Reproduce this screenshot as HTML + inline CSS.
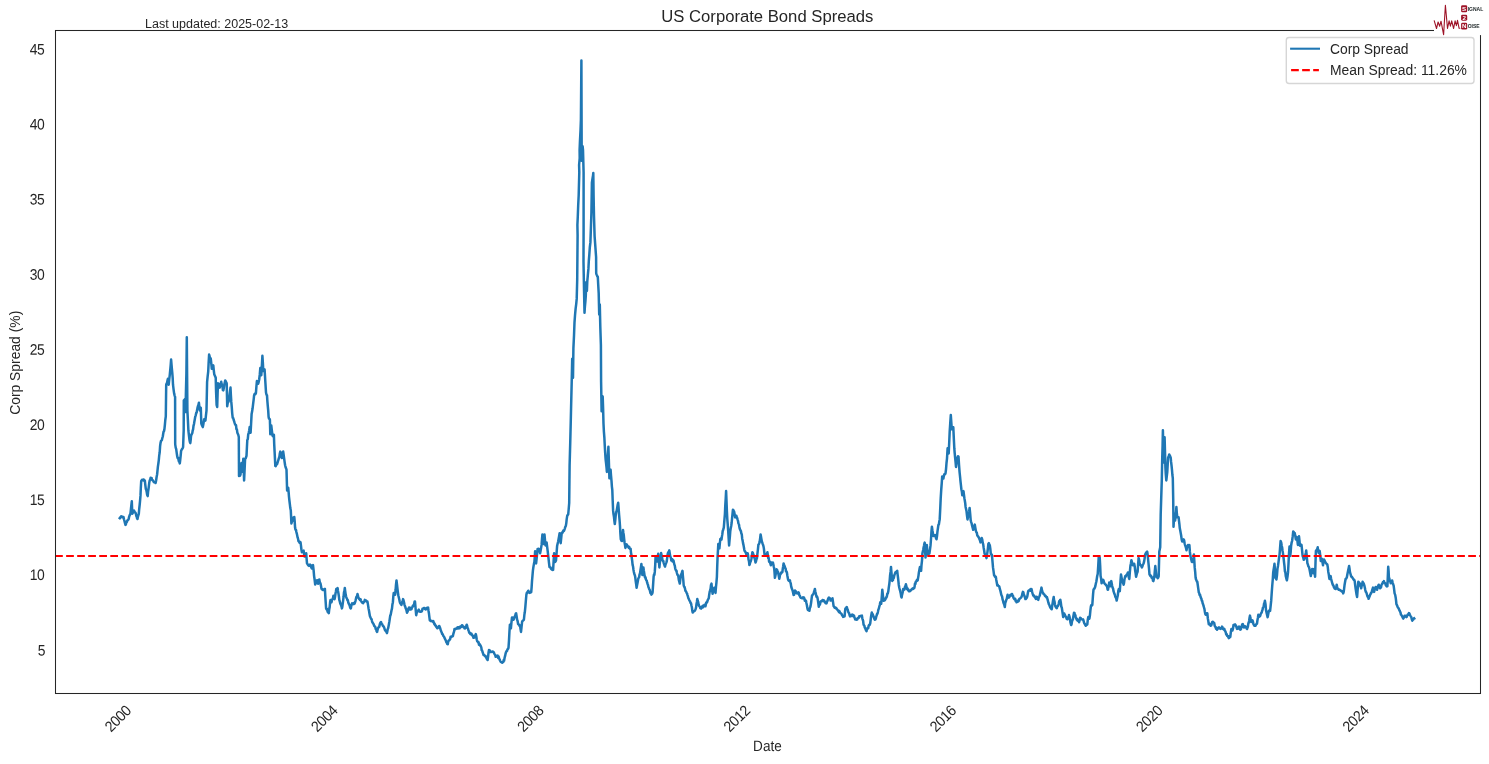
<!DOCTYPE html>
<html lang="en"><head><meta charset="utf-8"><title>US Corporate Bond Spreads</title>
<style>html,body{margin:0;padding:0;background:#fff;}body{width:1489px;height:764px;overflow:hidden;}svg{display:block;will-change:transform;}text{font-family:"Liberation Sans", Arial, sans-serif;fill:#262626;}</style></head><body>
<svg width="1489" height="764" viewBox="0 0 1489 764">
<rect x="0" y="0" width="1489" height="764" fill="#ffffff"/>
<polyline fill="none" stroke="#1f77b4" stroke-width="2.5" stroke-linejoin="round" stroke-linecap="butt" points="118.9,519 119.3,518.4 119.8,518.4 120.2,517.6 120.6,517.1 121.1,516.3 121.5,516.4 122,516.4 122.5,517.3 123,517.1 123.5,517 124,519.5 124.5,521.1 125,523.1 125.5,524.9 126,523.9 126.5,521.7 126.9,521.9 127.4,520.3 127.8,520.1 128.3,519.7 128.7,519 129.1,516.8 129.6,515.4 130,514.6 130.4,513.8 130.9,509.4 131.3,505.6 131.8,501.3 132.3,513.8 132.7,512.9 133.2,512.4 133.6,511 134,510.5 134.5,511.5 134.9,512.4 135.4,512.6 135.9,513.8 136.3,516 136.7,516.7 137.1,518.4 137.5,519 137.9,516.9 138.4,515.1 138.8,513.8 139.2,509 139.7,504.5 140.1,500.3 140.5,495.4 140.8,488.3 141.2,481 141.7,480.4 142.1,479.8 142.6,479.7 143.1,479.7 143.5,480.5 143.9,479.6 144.4,480.4 144.8,480.4 145.3,484.9 145.8,488.9 146.3,489.9 146.8,492.5 147.2,495 147.7,496.1 148.1,491.6 148.5,489.1 148.9,485.8 149.3,482.4 149.7,480.4 150.2,479.6 150.6,477.8 151.1,478.3 151.6,478 152,479.8 152.5,480.2 153,480.4 153.4,481.4 153.9,482.1 154.3,481.9 154.7,482.2 155.2,481.9 155.6,483 156.1,480.5 156.6,477 157.1,474.5 157.5,470.7 157.9,466.6 158.4,463.2 158.8,460.1 159.2,455.6 159.7,452.3 160.1,446.2 160.5,443.1 161,441 161.4,440.6 161.9,439.9 162.3,438.1 162.8,436.5 163.2,433.7 163.6,431.5 164,431.3 164.4,429.3 164.9,424.6 165.3,420 165.8,416.3 166.2,384.7 166.6,383.8 167.1,382.4 167.5,380.4 167.9,378.9 168.3,381.9 168.7,384.7 169.2,379.9 169.8,374.6 170.2,370.4 170.7,364.9 171.1,359.5 171.5,364.4 171.9,368.9 172.3,373.2 172.7,378.1 173,384.7 173.6,389.7 174.1,393.3 174.6,395.6 175.1,396.9 175.2,444.4 175.7,447.6 176.2,449.2 176.7,452.9 177.2,456.2 177.6,457.9 178.1,457.6 178.5,459.7 178.9,461.6 179.4,461.5 179.8,463.4 180.2,460.1 180.7,455.4 181.1,450.9 181.6,449.8 182.1,449.1 182.6,448.3 183.1,447 183.7,430 183.8,400.5 184.4,399.9 184.9,399.1 185.5,412 185.9,393.1 186.4,373 186.8,337.2 187.4,410.6 187.9,420.3 188.4,430.7 188.9,435.1 189.5,440 189.9,442.1 190.3,443.1 190.7,439.8 191,436.5 191.4,434.6 191.8,434.1 192.3,433 192.7,430.5 193.1,429.3 193.5,425.9 194,424 194.4,421.4 194.9,418.7 195.3,416.3 195.7,415.6 196.2,412.9 196.6,412.7 197,410.6 197.5,407.9 197.9,406.2 198.4,405 198.9,402.7 199.4,407.3 199.9,410.6 200.4,409.6 200.8,407.7 201.3,423.5 201.8,424.9 202.3,426 202.8,427.1 203.3,424.6 203.7,422.1 204.2,419.2 204.6,419.6 205,420.3 205.4,420.6 205.9,415.9 206.5,410.6 207.1,381.8 207.6,376.8 208.2,371.7 208.6,363.5 209.1,354.5 209.5,355.9 209.9,357.8 210.4,357.9 210.8,358.8 211.3,363.6 211.8,368.8 212.3,367.4 212.8,366.5 213.3,365.3 213.8,370.5 214.3,374.6 214.8,375.4 215.2,376.7 215.7,377.5 216.1,392.2 216.6,404.8 217.2,407 217.6,393.7 218,383.2 218.4,383.7 218.8,385.5 219.3,386.7 219.7,387.6 220.2,385.8 220.7,383.5 221.2,381.8 221.6,383.9 222,385.4 222.5,386.7 222.9,390 223.3,390.4 223.8,388.1 224.2,385.1 224.7,382.8 225.2,380.4 225.7,381.2 226.2,382.2 226.7,383.2 227.2,406.3 227.7,403 228.1,402.4 228.6,401.5 229.1,399.1 229.6,394.6 230,391.4 230.5,387.6 230.9,395.3 231.3,401.9 231.8,407.7 232.2,413.3 232.7,417.8 233.2,418.1 233.7,420 234.1,421.2 234.6,422.9 235.1,424.4 235.6,425 236,425.2 236.4,429 236.9,429.4 237.3,432.3 237.7,433.6 238.2,434.5 238.8,437 239,476 239.5,475.6 240,475.7 240.5,474.6 241,468.8 241.5,463.1 242,467.5 242.5,471.7 242.9,465.7 243.3,458.8 243.7,469.7 244.1,480.4 244.6,469.6 245.1,458.8 245.6,458.7 246,457.4 246.5,455.9 246.9,447.8 247.3,440 247.8,439.1 248.2,434.6 248.7,432.8 249.2,430.4 249.7,427 250.1,429.8 250.6,432.8 251.1,423.5 251.6,414.1 252.1,411.6 252.6,408.3 253.1,404.1 253.6,400.1 254.1,395.4 254.6,394 255,393.5 255.4,394.1 255.9,393.2 256.4,386.6 256.9,381 257.3,381.4 257.7,382.1 258.1,383.8 258.6,382.3 259.2,379.5 259.8,374.2 260.3,368 260.8,372.4 261.3,375.2 261.9,365 262.4,355.8 262.9,363.4 263.3,370.9 263.7,369.8 264.2,370.4 264.6,369.5 265.1,378 265.5,384.3 266,392.5 266.5,394.8 267,395.4 267.4,401.3 267.8,406.1 268.2,410.4 268.6,416.9 269,418.6 269.5,418.8 269.9,419.8 270.3,434.2 270.8,429.6 271.3,425.6 271.7,429.2 272.1,432.5 272.5,435.6 273,436.2 273.4,434.6 273.9,434.9 274.2,443.9 274.6,451.6 275,459.6 275.3,466 275.7,466.2 276.1,464.7 276.6,463.9 277,464.2 277.4,463.1 277.9,461.5 278.4,459.8 278.9,458.1 279.4,456.7 279.8,453.6 280.3,451.6 280.8,452.5 281.3,455.7 281.8,458.1 282.3,454.9 282.7,454.2 283.2,451.6 283.7,455.2 284.1,458.1 284.6,461.9 285.1,465.3 285.6,467.2 286,468.2 286.5,469.6 287.1,490.4 287.6,489.7 288.2,487.6 288.6,491.9 289,496.8 289.4,500.5 289.9,504.7 290.3,508.1 290.8,510.6 291.4,523.5 291.9,521.7 292.3,521.1 292.8,519.2 293.3,517.5 293.8,517.2 294.3,517.1 294.7,521.4 295.1,527.8 295.5,529.8 296,530 296.4,532.1 296.8,533.6 297.2,535.4 297.6,537.4 298.1,539 298.5,541.3 299,541.6 299.5,542.7 300,541.9 300.5,542.1 301,545.8 301.4,549.5 301.9,552.3 302.3,551.8 302.8,550.8 303.2,550.7 303.6,550.6 304.1,554.2 304.5,556.6 304.9,554.8 305.4,554.6 305.8,554.6 306.2,553.2 306.6,558.7 307,563.4 307.5,564 308,565.1 308.5,565.4 309,565.9 309.4,565.1 309.9,564.6 310.3,564.9 310.7,565.1 311.2,567.3 311.8,568.5 312.2,567.1 312.6,565.7 313,565.1 313.6,570.2 314.1,576.1 314.6,579.5 315.2,584.6 315.6,583.5 316,581.9 316.5,581.7 316.9,580.4 317.3,580.2 317.7,582.8 318.1,583.8 318.5,582 318.9,579.9 319.3,579.5 319.7,581.8 320.2,583.1 320.6,583.9 321.1,586.5 321.5,588.9 321.9,589.3 322.4,589 322.8,589.9 323.2,589.7 323.6,589.9 324,589.7 324.5,589.3 324.9,588.9 325.3,596.1 325.7,602.3 326.1,608.4 326.6,609.4 327,608.9 327.5,611.3 327.9,612.3 328.4,612.2 328.8,613.2 329.2,609.6 329.6,607.6 330.1,602.3 330.5,599.9 330.9,600.7 331.3,602.4 331.7,601.6 332.1,599.6 332.5,599 333,598.2 333.4,595.7 333.8,596.8 334.2,598.3 334.6,599.1 335,597 335.5,593.5 335.9,591.4 336.3,588.9 336.7,588.8 337.2,588.8 337.6,588 338,591 338.5,593.8 338.9,596.4 339.3,599.9 339.7,601.1 340.2,603.2 340.6,604.2 341,605.1 341.5,606.5 341.9,608.4 342.3,606.9 342.8,603.1 343.2,599.8 343.6,596.5 344,592.2 344.4,591.2 344.8,588 345.2,591.1 345.7,594.6 346.1,596.5 346.5,597.9 347,598.7 347.4,600.2 347.8,600 348.3,602.7 348.7,603.3 349.1,604.5 349.6,605 350,607.1 350.5,608.4 350.9,608.4 351.3,605.9 351.7,604.6 352.1,603.3 352.5,603.7 353,603.9 353.4,603.8 353.8,604.2 354.2,602.8 354.6,603.7 355.1,602.2 355.5,600.8 356,598.4 356.5,596.7 357,596.6 357.5,594 358,595.9 358.4,597.8 358.9,598.2 359.3,599.2 359.7,598.9 360.1,600 360.6,599.3 361,600.6 361.4,601.6 361.8,602 362.2,602.7 362.7,602.5 363.1,603.3 363.5,602.4 364,601.9 364.4,601 364.8,599.9 365.2,600.5 365.7,600.6 366.1,600.6 366.5,601.5 367,601.3 367.4,601.6 367.8,603.6 368.2,606.1 368.6,608.8 369.1,611.2 369.5,613.8 369.9,616.1 370.3,617 370.8,618.1 371.2,618.9 371.6,619.2 372,621.1 372.4,622.4 372.9,623 373.3,623.7 373.8,624.6 374.2,626 374.7,626.2 375.2,626.8 375.7,628.9 376.2,629.3 376.6,631.3 377.1,631.9 377.5,630.1 378,628.1 378.4,627.7 378.8,627.1 379.2,626.9 379.7,624.9 380.1,623.3 380.6,622.6 381,622 381.4,623 381.8,623.7 382.2,624.2 382.7,625.7 383.1,626 383.5,626.3 383.9,627.1 384.4,628.3 384.8,629.8 385.2,630.2 385.6,631.1 386,630.8 386.5,632.2 386.9,633.1 387.3,631.6 387.7,629.2 388.2,628 388.6,625.9 389,623.7 389.4,621.4 389.9,617.9 390.3,615.2 390.7,614.9 391.1,612.5 391.6,610 392,608.4 392.4,604.6 392.9,602.2 393.3,596.7 393.7,593.1 394.2,594.1 394.6,594.8 395.1,594.8 395.6,590 396,584.6 396.5,580.4 397,584.7 397.5,589.1 398,593.1 398.4,595.8 398.9,597.8 399.3,599.5 399.7,601.6 400.1,602.9 400.5,603.6 401,604.3 401.4,605 401.8,603.6 402.2,601.9 402.7,601 403.1,599.1 403.5,600.2 404,602.2 404.4,604.2 404.8,605.9 405.2,606.5 405.7,608.4 406.1,608.9 406.6,611 407,612.7 407.5,611.7 408,610.5 408.5,608.8 409,607.6 409.4,607.8 409.8,607.5 410.3,609.6 410.7,609.2 411.1,609.3 411.5,609.2 412,607.5 412.4,607.2 412.9,605.6 413.3,605.9 413.7,605.3 414.1,604.3 414.6,601.6 415,601.6 415.4,606.1 415.8,611 416.2,615.2 416.6,613.2 417.1,612.2 417.5,611.6 418,610.8 418.4,610.1 418.8,609.7 419.3,610.8 419.7,611.3 420.2,611.8 420.6,611.8 421.1,611.6 421.6,611.5 422.1,610.7 422.5,608.8 423,608.7 423.5,608.4 423.9,608 424.4,608.1 424.8,608.8 425.2,609 425.7,609.4 426.1,609.3 426.6,608 427.1,607.8 427.6,608 428.1,607.6 428.5,610.7 429,613.8 429.4,617.1 429.8,620.3 430.2,620.1 430.7,621.1 431.1,621.1 431.6,621.1 432,621 432.5,621.5 432.9,621.8 433.3,621 433.8,622.6 434.2,623.8 434.6,623.6 435,625.2 435.5,625.8 435.9,625.6 436.3,626.9 436.8,627.5 437.2,628.3 437.6,628.1 438.1,627.8 438.5,627 439,626.1 439.4,626.1 439.9,627.4 440.3,628.7 440.8,630.5 441.3,631.6 441.7,632.4 442.2,634.1 442.7,634.2 443.2,635.6 443.6,636.2 444.1,636.8 444.6,638.2 445.1,639.1 445.5,639.8 446,641.2 446.4,642.4 446.9,642.9 447.3,644.1 447.8,644.2 448.2,641.5 448.7,640.5 449.2,640.5 449.7,639.4 450.1,639.3 450.6,636.8 451.1,637.1 451.6,636.9 452,636.3 452.5,635.8 452.9,636.1 453.3,634.1 453.7,632.6 454.1,631.4 454.5,629 454.9,629.3 455.3,629.2 455.8,628.9 456.2,628.4 456.6,628.3 457,628.4 457.5,627.4 457.9,628.5 458.4,627.2 458.8,627.6 459.2,627.5 459.7,628.2 460.1,626.7 460.6,626.5 461.1,626.9 461.5,626 461.9,625.2 462.4,625.4 462.8,626.1 463.2,626.9 463.7,627.5 464.1,627.3 464.5,628.3 464.9,628.5 465.4,627.8 465.8,626.2 466.3,625.6 466.7,624.7 467.1,625.8 467.5,628.1 467.9,628.3 468.4,630.3 468.8,631 469.2,632.6 469.6,632.5 470,633.5 470.4,634.1 470.9,633.6 471.3,633.5 471.7,634.1 472.1,635.3 472.6,635.5 473,636.4 473.5,637.8 473.9,637.7 474.4,637.4 474.9,635.6 475.3,636.3 475.8,634.1 476.3,636.5 476.7,639.3 477.2,641.3 477.7,641.6 478.1,642.5 478.6,642.2 479,644.7 479.5,645.1 479.9,644.3 480.4,645.6 480.8,646.1 481.3,647.4 481.7,650.2 482.2,650.7 482.6,652.2 483.1,653.4 483.5,654.9 484,655.2 484.4,655.1 484.9,656 485.4,656.4 485.8,656.3 486.3,657.8 486.7,658.7 487.2,659.5 487.6,660 488.1,656.5 488.5,652.8 489,649.9 489.4,650.4 489.9,650.5 490.3,652 490.8,652 491.2,652 491.6,651.9 492,651.7 492.5,651.6 492.9,651.5 493.3,652 493.8,652.5 494.3,653.6 494.8,654.5 495.2,655.2 495.7,656.8 496.2,656.4 496.7,655.7 497.2,655.9 497.7,655.6 498.2,658.1 498.6,656.5 499.1,658.2 499.6,659.6 500,660.5 500.5,661.4 501,662.1 501.5,662.2 502,662.8 502.4,662.6 502.8,662 503.3,662 503.7,660.1 504.1,660.7 504.6,657.8 505.1,655.9 505.6,653.5 506.1,652 506.6,651 507.1,650.9 507.5,649.3 508,649 508.5,647.7 509,640.4 509.4,632.5 509.9,624.7 510.4,626.8 510.9,628.3 511.4,622.8 512,617.5 512.5,617.5 513,619 513.5,619.7 513.9,618.9 514.4,617.2 514.8,616.4 515.2,615.8 515.7,613.8 516.1,613.2 516.6,616.3 517.1,619.6 517.6,621 518.1,624 518.6,624.4 519,624.6 519.5,625.9 520,625.4 520.5,628.8 521,631.9 521.5,627.3 522.1,621.8 522.5,620.9 523,620.7 523.5,620.2 523.9,619.7 524.4,614.6 524.8,612.3 525.3,607.4 525.8,601.4 526.4,594.5 526.9,592.6 527.3,593 527.8,591.6 528.3,590.7 528.8,591.7 529.3,592.4 529.8,592.9 530.3,591.8 530.7,592.3 531.2,592.2 531.6,587.6 532,581.1 532.5,575.4 532.9,570.6 533.4,567 533.9,564.1 534.4,561.9 534.8,556.7 535.1,551.2 535.6,558.2 536.1,563.4 536.6,558.8 537.1,553.9 537.6,549 538.1,550.2 538.5,548.7 539,549 539.5,550.8 540.1,553.3 540.6,550.7 541.1,547.9 541.6,544.7 542,539.1 542.4,534.6 543,538.7 543.5,544 544,539.5 544.5,534.6 545,540.1 545.5,545.4 546,543.2 546.6,542.5 547.1,546.5 547.6,550.3 548.1,554.7 548.6,559.1 549,562.8 549.5,567 550,567.3 550.5,567.5 550.9,568.6 551.4,568.4 551.8,569.5 552.2,568.9 552.7,570 553.1,569.9 553.6,561.2 554.1,553.3 554.5,557.6 555,561.9 555.5,561.6 556,560.5 556.5,554.1 557.1,546.1 557.6,543.7 558.1,541.8 558.6,538.9 559.1,536.2 559.6,533.2 560.2,537.4 560.7,543.2 561.2,538.2 561.7,533.2 562.1,532.4 562.6,532.5 563,531.3 563.5,530.4 563.9,531 564.4,529.8 564.8,528.6 565.3,526.9 565.8,526 566.3,523.1 566.7,519.1 567.2,515.9 567.7,514.9 568.2,514.5 568.7,509 569.2,503 569.6,465.7 570.2,443.9 570.7,423.8 571.2,402.5 571.7,381.9 572.2,358.8 572.6,368.2 573,377.7 573.4,348.4 574,335.8 574.5,322.3 575,315.5 575.6,308.9 576.2,304.1 576.7,298.9 577.2,280 577.6,235 577.4,225 577.8,216.2 578.2,205.2 578.7,195 579.3,172 579.1,165 579.7,158 579.6,150 580,140.2 580.5,130.9 580.9,120 581.4,60.4 581.7,160.8 582.2,153.1 582.6,146.2 583,150 583.6,172.4 583.6,230 583.5,262 584,288.7 584.5,312.8 584.9,306.7 585.4,301.3 585.8,295.6 586.2,282.2 586.5,286.7 586.9,291 587.3,281.1 587.8,275.6 588.4,268.9 588.8,261.2 589.3,254.9 589.8,247.5 590.4,242.4 590.9,228 591.4,213 591.9,182.8 592.2,180.8 592.6,178 593,175.8 593.3,172.9 593.6,196 594,216.2 594.6,236.1 595.1,243.2 595.6,250.2 596.1,257 596.2,273.3 596.6,274.7 597,275.2 597.4,276.8 597.8,276.7 598.2,284.4 598.7,293.4 599.2,314.5 599.8,304.5 600.3,326.7 600.9,345 601.1,381.9 601.6,411.2 602.2,403.6 602.7,396.5 603.1,408.3 603.5,423.8 603.9,431.6 604.4,438.2 604.8,446.3 605.2,453.1 605.6,459 606,462.5 606.5,467.1 606.9,471.9 607.4,463.3 607.9,454.7 608.4,446.8 608.9,462.2 609.4,478.2 609.8,475.8 610.2,472.6 610.6,469.8 611,475.4 611.5,480.9 611.9,486.6 612.3,490 612.7,500.7 613.1,510.4 613.5,514.1 614,517.1 614.4,521 614.8,524 615.3,519.9 615.7,515.4 616.2,512.1 616.7,510.6 617.2,507.7 617.7,504.6 618.2,502.8 618.7,509.3 619.1,514.9 619.6,520.6 620,526 620.4,534 620.8,539.3 621.2,540.1 621.6,540.9 622,541 622.5,535.6 623,530 623.4,533 623.8,535.3 624.2,539.3 624.6,542.7 625,545 625.4,547.9 625.8,546.6 626.3,545.8 626.7,544.4 627.1,545.1 627.5,546.2 628,546.3 628.4,547.2 628.8,547.9 629.2,546.9 629.7,548.1 630.1,548.9 630.6,548.7 631,552.6 631.4,554.8 631.8,558.1 632.2,561 632.6,564.9 633.1,566.8 633.5,570 633.9,572.1 634.4,574.3 634.8,575.1 635.2,576.8 635.7,581.1 636.1,583.7 636.6,587.8 637,585.6 637.5,583.1 637.9,580.9 638.3,578.5 638.7,577.8 639.1,577.3 639.6,574.3 640,573.4 640.5,570 640.9,567.4 641.4,564 641.9,569 642.4,575.1 642.9,571.5 643.4,567.4 643.8,570.5 644.2,572.9 644.6,575.9 645,577.3 645.5,577.2 645.9,579.5 646.3,580.2 646.7,580.6 647.1,582.4 647.5,583.7 648,585 648.4,587 648.8,587.8 649.2,589 649.7,589.8 650.1,591.5 650.5,593.2 651,593.5 651.4,594.6 651.8,594 652.2,593.6 652.6,592.1 653.1,584.6 653.6,576.8 654,574.4 654.4,574.8 654.8,571.7 655.2,565.3 655.6,556.4 656.1,557 656.5,559.8 657,561.5 657.4,559.2 657.8,556.9 658.2,553.8 658.6,558.7 659,562.7 659.4,567.4 659.8,563.2 660.2,560.3 660.7,557.2 661.1,553 661.5,554.7 662,557 662.4,559.8 662.8,560.9 663.3,561 663.7,563.1 664.1,564.1 664.6,565.7 665,566.6 665.4,564.9 665.9,563.6 666.3,562.6 666.7,561.5 667.1,558.6 667.5,555.5 667.9,553 668.4,552.1 668.8,551.7 669.3,550.4 669.8,553.6 670.3,556.4 670.8,557.6 671.3,560.6 671.7,560.4 672.2,559.2 672.6,561.6 673.1,560.2 673.5,560.6 673.9,562.5 674.4,564.7 674.8,565.6 675.2,568.3 675.6,569.7 676.1,570.6 676.5,570.7 676.9,573 677.4,574.6 677.8,575.1 678.3,576.2 678.8,579.8 679.3,581.6 679.8,583.6 680.3,579.6 680.8,575.1 681.2,574.3 681.6,573.7 682.1,571.8 682.5,570.8 682.9,576.1 683.3,580.2 683.7,585.3 684.1,586.8 684.6,587.1 685,588.6 685.4,590.8 685.9,591.2 686.3,592.1 686.7,593.1 687.1,593.7 687.5,595.1 688,596.7 688.4,598.3 688.8,598.9 689.2,600 689.7,600.9 690.1,601.5 690.6,603.1 691,603.2 691.4,605.3 691.9,607.5 692.3,610.7 692.7,612.5 693.1,612.2 693.5,611.7 694,611.2 694.4,611 694.8,610.8 695.2,610 695.7,608.7 696.1,607.4 696.5,603.9 696.9,602 697.3,598.9 697.7,600.7 698.1,601.7 698.6,604.4 699,605.7 699.4,606.2 699.9,606.8 700.3,608.1 700.7,608.3 701.1,608.6 701.6,607.1 702,607.2 702.4,606.1 702.9,607.4 703.3,605.7 703.7,605.3 704.1,606.1 704.5,604.9 705,605.6 705.4,606.3 705.8,604.9 706.2,602.5 706.7,602.7 707.1,602.2 707.5,600.8 708,599.5 708.4,598.9 708.8,598 709.2,594.7 709.7,591.6 710.1,590.4 710.6,588.6 711,584.9 711.5,583.6 712,589.3 712.6,593.8 713,592 713.5,590.9 713.9,590 714.3,587.8 714.7,589.6 715.1,590.4 715.5,592.9 716,586.6 716.4,582.8 716.9,576.8 717.2,567.1 717.6,556.6 718,549.9 718.3,544.1 718.8,546.7 719.4,548.4 719.8,544 720.3,539 720.7,539.6 721.1,538.2 721.5,539.6 721.9,536.6 722.3,534.4 722.7,531 723.2,529.7 723.8,527.6 724.3,521.3 724.9,514 725.3,505 725.7,498.8 726.1,491.1 726.5,500.7 726.9,511.2 727.3,519.1 727.8,525.4 728.3,532.7 728.7,538.9 729.1,545.5 729.5,540.7 729.9,536.3 730.3,531 730.8,527.9 731.2,526 731.7,522.5 732.1,517.8 732.5,514.2 732.9,509.8 733.3,510.1 733.7,511 734.1,511.5 734.6,514.1 735.1,517.4 735.5,516 735.9,516.9 736.3,515.7 736.7,517.1 737.1,517.9 737.6,519.6 738,520.8 738.4,523.3 738.9,524.1 739.3,526.5 739.7,528.5 740.1,529.6 740.5,530.5 740.9,531 741.3,533.2 741.8,534.5 742.2,538.7 742.6,540.4 743,542.9 743.5,545.1 743.9,547.3 744.3,549.8 744.7,551 745.2,551.6 745.6,552.3 746.1,553.5 746.5,554.9 746.9,554 747.3,553.4 747.7,553.2 748.1,555.5 748.5,559.5 749,561.4 749.4,565.1 749.8,564.2 750.2,562 750.7,561.5 751.1,560 751.5,558.2 752,555 752.4,552.3 752.9,553 753.3,554.6 753.8,555.7 754.2,557.5 754.6,558.1 755.1,560.5 755.5,562.5 756,561.2 756.4,559.4 756.9,558.3 757.4,553.8 757.9,549.6 758.4,544.7 758.8,544.3 759.2,543.5 759.6,542.1 760.1,538.6 760.6,534.5 761,536.6 761.4,539 761.8,541.3 762.2,542.4 762.6,543.7 763.1,545 763.5,546.4 763.9,548.6 764.3,552.4 764.7,555.7 765.1,555.5 765.5,554.8 766,555.1 766.4,554.9 766.9,553.9 767.4,552.3 767.8,554.6 768.2,558.1 768.7,557.9 769.1,561.7 769.5,562.1 769.9,561.7 770.4,563.7 770.8,565.2 771.2,564.2 771.6,562.4 772,563.4 772.5,563.2 772.9,562.5 773.3,564.3 773.8,566.8 774.2,568.5 774.5,571.9 774.9,577.8 775.3,576.1 775.8,573.8 776.2,571.4 776.6,569.3 777.1,569.8 777.5,571.4 778,571.9 778.4,573.9 778.9,576.6 779.3,578.7 779.7,576.9 780.1,574.5 780.6,574.2 781,572.7 781.5,572.5 781.9,572.6 782.4,571.9 782.8,568.6 783.2,566.2 783.6,563.4 784.1,565 784.6,566 785.1,567.9 785.6,568.5 786,571.3 786.5,571.4 786.9,572.5 787.3,575.3 787.7,577.5 788.1,579.5 788.5,580.4 789,580.9 789.4,580.8 789.9,580.4 790.3,582 790.8,583.8 791.2,586.6 791.6,588 792.1,589.2 792.6,590.5 793.1,592.6 793.6,594.9 794.1,594.8 794.5,593.1 795,590.6 795.4,590.9 795.9,591.5 796.3,592.7 796.7,593.2 797.1,592.6 797.5,593.5 798,592.5 798.4,592.3 798.9,593 799.4,595.6 799.9,595.8 800.4,597.4 800.8,597.7 801.2,597.8 801.7,597.9 802.1,598.3 802.6,598.2 803,597.3 803.5,597.4 803.9,597.5 804.4,598.5 804.8,600.8 805.2,600.1 805.6,600.4 806,600.8 806.4,603 806.9,605.2 807.3,607.7 807.7,609.6 808.1,610 808.5,609.8 809,610.1 809.4,610.8 809.8,608 810.2,607.4 810.6,605.9 811.1,602.8 811.5,599.4 812,595.7 812.4,595.1 812.9,594.5 813.3,594 813.7,593.2 814.1,591.5 814.5,590.6 814.9,588.9 815.3,591.5 815.8,593.6 816.2,595.7 816.6,597 817,596.5 817.4,597.4 817.9,600.3 818.3,603.2 818.8,606.8 819.2,605.1 819.6,605.1 820.1,603.9 820.5,601.7 821,601.3 821.5,601.2 822,601.1 822.5,600 823,600.8 823.4,601.3 823.9,600.3 824.3,601 824.8,601.7 825.2,602.4 825.6,603.3 826.1,603 826.5,603.4 827,601.7 827.5,600.8 827.9,599.5 828.4,598.2 828.9,597.5 829.3,598.8 829.7,598.1 830.2,599 830.6,600.6 831,599.9 831.5,600 832,599 832.5,598.3 833,601.9 833.6,606.2 834.1,606.7 834.6,607.7 835,607.4 835.5,608.1 836,607.7 836.5,608.4 837,609.3 837.4,609.5 837.9,610.5 838.4,610.9 838.9,612.1 839.3,611 839.8,612.2 840.2,612.9 840.7,613.2 841.2,613.5 841.7,614.2 842.1,615.4 842.6,615.6 843.1,616.9 843.6,616.3 844.1,616.4 844.6,616.4 845,611.6 845.4,608.5 845.8,609.1 846.3,607.5 846.7,607 847.2,608.5 847.7,609.5 848.2,611.7 848.7,612.8 849.2,613.4 849.6,615.3 850.1,616.4 850.5,616.3 850.9,615.6 851.3,615.4 851.7,614.8 852.2,614.5 852.7,616 853.1,615 853.6,615.6 854,615.6 854.4,617.4 854.8,618.1 855.2,619.5 855.7,618.9 856.2,619.3 856.7,619.7 857.2,619.5 857.7,618.1 858.2,617.9 858.7,618 859.2,616.4 859.7,616.6 860.1,616 860.5,616.1 861,615.8 861.5,615.7 861.9,615.6 862.3,618.2 862.7,619.8 863.1,620.7 863.5,624.2 863.9,625.2 864.4,625.8 864.8,627.7 865.2,628.1 865.7,629.5 866.1,630.5 866.5,631.2 866.9,629 867.4,628.5 867.8,627.9 868.2,628.2 868.7,625.7 869.2,624.8 869.7,624.9 870.2,623.5 870.6,620.4 871,617 871.4,614.4 871.8,612.5 872.2,613.8 872.6,614 873,615.2 873.4,616.4 873.9,617.4 874.3,618.7 874.8,619.8 875.3,619.5 875.8,618.7 876.2,616.8 876.6,615.5 877.1,614 877.5,613.6 877.9,612 878.4,609.6 878.8,608.7 879.2,607 879.8,604.8 880.3,602.2 880.8,603 881.2,603.8 881.8,596.5 882.3,589.7 882.8,594.5 883.4,600.7 883.8,600.1 884.2,599.2 884.7,600.4 885.1,599.7 885.5,599.1 886,597.3 886.4,597.7 886.9,596.3 887.3,593.7 887.8,593.6 888.3,591.3 888.8,587.4 889.2,584.8 889.7,580.3 890.1,575.2 890.6,571.7 891,566.9 891.4,571.8 891.8,576.4 892.2,581 892.6,580.3 893,580 893.4,577.9 893.8,577.9 894.2,575.8 894.6,574.4 895,573.5 895.4,572.4 895.9,571.7 896.3,571.8 896.8,571.3 897.2,570.8 897.6,574.4 898,577.5 898.4,581.2 898.8,585 899.2,587.3 899.6,588.9 900,590.3 900.4,592 900.8,593.7 901.2,596.5 901.6,597.5 902,595 902.4,593.6 902.8,591.7 903.2,588.9 903.8,589.2 904.3,589.7 904.7,588.8 905.1,586.3 905.5,586.1 905.9,584.2 906.5,586.7 907,588.9 907.5,588.4 907.9,590.1 908.4,589.6 908.9,591.2 909.3,590.5 909.8,591.3 910.3,590.7 910.8,590.5 911.2,589.7 911.7,589.5 912.2,588.9 912.7,588.4 913.2,588.9 913.7,588.3 914.2,588.1 914.6,586.6 915,583.4 915.4,584 915.8,581.8 916.3,581.4 916.8,580.1 917.2,580.7 917.7,580.3 918.1,577.9 918.5,575.6 918.9,572.4 919.5,569.1 920,566.9 920.5,569.7 921.1,570.8 921.5,565 922,560.7 922.4,553.6 922.8,551.5 923.2,550 923.6,547.5 924,545.7 924.4,543.5 924.7,542.6 925.1,550.7 925.5,557.5 925.9,553.8 926.4,549.9 926.8,544.9 927.3,550.1 927.9,554.3 928.4,553.8 928.9,552.9 929.4,553.6 930,549.3 930.5,545.7 930.9,540.5 931.2,536 931.5,530.9 931.9,526.7 932.4,530.2 932.9,533.1 933.4,536.1 933.8,535.7 934.2,535.7 934.7,535.3 935.1,535.1 935.6,536.6 936,538.3 936.5,539.3 937,536 937.5,531.2 938,527.7 938.4,524.8 938.9,524.3 939.3,521.5 939.7,519.4 940.2,509.5 940.7,498.4 941.2,490.2 941.7,483.6 942.2,476.4 942.6,477.1 943,477 943.4,478.5 943.8,476.1 944.3,474.3 944.7,474.4 945.1,474.2 945.5,473.3 946,469.3 946.5,463 947,458.6 947.6,448.2 948.2,450 948.7,453.4 949.2,442.7 949.7,431.4 950.2,423.8 950.8,415.1 951.3,422.3 951.8,429.3 952.3,427.9 952.8,428.3 953.3,427.2 953.8,438.1 954.3,448.2 954.7,453.2 955.1,457.3 955.6,462.5 956,467 956.5,463.2 957,458.6 957.5,457.6 958,456.2 958.5,456.5 959,464.6 959.6,472.3 960.1,477.1 960.5,481.4 961,485.9 961.4,489.5 961.9,491.8 962.3,495.3 962.7,493.9 963.1,492.3 963.5,491.1 963.9,494.5 964.4,498.2 964.8,500.5 965.2,503 965.6,506.9 966.1,509.2 966.5,511 967,515.6 967.5,519.4 968,517.1 968.6,514.1 969.1,512 969.6,507.9 970.2,514.1 970.7,520.4 971.2,522.1 971.6,523.3 972.1,525.7 972.7,528 973.2,529.8 973.6,529.2 974,527.5 974.4,526.1 974.8,524.6 975.3,527.6 975.9,530.9 976.4,532.3 976.8,532.7 977.3,535.4 977.8,536.1 978.2,536.7 978.6,537.1 979.1,538.1 979.5,539.3 980,540.4 980.5,542.4 980.9,541.4 981.3,540 981.7,537.9 982.2,539.3 982.7,542.7 983.2,544.4 983.7,548 984.1,550.3 984.6,553.8 985.1,554.1 985.5,555.5 986,556.7 986.5,558.1 987,555 987.5,551.6 988,547.5 988.4,543.7 988.9,543.1 989.3,544.8 989.8,545.1 990.3,548.6 990.8,553.8 991.3,554.6 991.8,554.5 992.2,558.1 992.6,562.7 993,567.4 993.5,570.9 994.1,575.4 994.5,575.5 995,576.8 995.4,576.9 995.8,576.8 996.3,580 996.8,582.7 997.3,585.4 997.7,584.8 998.1,585.7 998.6,586 999,586.1 999.4,586.9 999.9,589.2 1000.3,590.4 1000.8,592.4 1001.3,594.8 1001.7,595.7 1002.1,596.6 1002.6,599.5 1003,600.6 1003.5,602.9 1003.9,603.9 1004.3,604.9 1004.8,607 1005.3,602.7 1005.9,601.3 1006.3,599.8 1006.8,598.7 1007.2,596.6 1007.6,594.8 1008,596.3 1008.4,597.5 1008.8,597.7 1009.3,597.2 1009.9,595.5 1010.4,594.9 1010.8,595.4 1011.2,594.9 1011.7,594.1 1012.1,594.1 1012.5,595.6 1013,595.9 1013.4,597.5 1013.8,598.4 1014.3,599.2 1014.7,598.8 1015.2,598.8 1015.7,601.2 1016.2,601.2 1016.6,602.3 1017.1,602 1017.5,600.7 1017.9,601.4 1018.4,601.4 1018.8,600.8 1019.2,599.1 1019.7,598.6 1020.1,598.5 1020.5,598 1021,597.7 1021.5,596.8 1022,595.4 1022.4,593.4 1022.9,591.9 1023.4,592.4 1023.8,594.7 1024.3,595.5 1024.8,597 1025.4,599.1 1025.9,599 1026.3,598.3 1026.8,597.7 1027.3,596.4 1027.7,594 1028.2,591.2 1028.7,590.5 1029.2,590.5 1029.7,589.8 1030.2,590.6 1030.6,589.1 1031,589.4 1031.5,589 1032,591.3 1032.4,592.9 1032.8,594.2 1033.3,595.5 1033.7,595.2 1034.1,595.7 1034.6,597 1035,597.5 1035.4,597.7 1035.9,598.9 1036.4,596.8 1036.9,597 1037.4,598.6 1037.8,599.3 1038.3,599.8 1038.8,597.4 1039.3,596.5 1039.8,595.5 1040.2,593.6 1040.7,591.3 1041.1,589.5 1041.5,587.6 1042,590.4 1042.6,592.6 1043,592.7 1043.5,594 1043.9,594 1044.4,594.6 1044.8,595.5 1045.2,596.1 1045.6,595.8 1046.1,596.6 1046.5,597.6 1046.9,597 1047.4,598.9 1047.9,600.7 1048.4,602.7 1048.9,604.3 1049.3,604.9 1049.8,606.3 1050.3,607.6 1050.8,607 1051.2,608.8 1051.7,609.2 1052.2,605.7 1052.7,602.7 1053.2,599.4 1053.7,597 1054.1,600.4 1054.5,601.3 1054.9,604.2 1055.4,606.4 1055.8,607 1056.3,607.8 1056.8,608.1 1057.3,606.3 1057.8,606.3 1058.3,605.3 1058.7,603.8 1059.2,601.3 1059.8,600.5 1060.3,599.8 1060.8,602.4 1061.3,606.5 1061.8,607.8 1062.3,611 1062.7,613.8 1063.2,617.1 1063.7,615 1064.2,613.5 1064.7,614.7 1065.2,615.6 1065.7,616.4 1066.2,617.2 1066.6,618.8 1067,618.4 1067.5,619.3 1068,618.1 1068.5,617.2 1069,615 1069.5,616.6 1070,619.3 1070.5,622.7 1071.1,625 1071.5,624.6 1072,621.4 1072.5,620.1 1072.9,619.3 1073.5,615.5 1074,612.8 1074.5,612.9 1074.9,615.2 1075.3,615 1075.8,617.1 1076.2,618.3 1076.7,619.7 1077.1,618.9 1077.6,620.7 1078.1,621 1078.6,620.6 1079.1,622.2 1079.6,620.4 1080.1,617.8 1080.6,617.9 1081,618.7 1081.5,619.3 1082,619.3 1082.5,619.6 1083,619.3 1083.5,620.5 1083.9,622.2 1084.4,623.6 1084.9,624 1085.3,625.1 1085.8,625.8 1086.3,624.7 1086.8,624.8 1087.3,624.3 1087.8,619.6 1088.3,617.1 1088.8,617.6 1089.4,618.6 1089.9,615.6 1090.4,610.4 1090.9,606.3 1091.4,605.1 1091.8,605.5 1092.3,604.9 1092.7,599.3 1093.1,593.9 1093.5,589.8 1094,588.7 1094.4,588.7 1094.9,587.6 1095.4,585.9 1095.8,583.7 1096.3,581.8 1096.8,578.7 1097.2,576 1097.7,574 1098.2,566.4 1098.7,557.4 1099.2,557.5 1099.7,557.4 1100.2,566.2 1100.6,576.1 1101.1,578.5 1101.6,583.3 1102.1,581.3 1102.5,582.3 1103,579.7 1103.5,580.3 1103.9,582.1 1104.4,583.3 1104.9,583.9 1105.3,584.3 1105.8,584.7 1106.3,585.4 1106.7,585.7 1107.2,587 1107.6,589.6 1108,589.8 1108.4,587 1108.8,585.5 1109.2,582.6 1109.7,583.5 1110.2,586.2 1110.8,583.5 1111.3,581.1 1111.7,583.4 1112.2,586 1112.6,587.6 1113.1,588.6 1113.5,591.2 1114,592.7 1114.5,594.1 1114.9,595 1115.4,597 1115.8,597.5 1116.3,598.9 1116.7,600.6 1117.2,598 1117.8,595.5 1118.3,590.8 1118.8,589 1119.3,590 1119.8,591.2 1120.2,585.1 1120.6,579.3 1121,574.6 1121.5,577.3 1122.1,580.4 1122.6,582.3 1123.1,583 1123.6,584.7 1124,583.2 1124.4,579.8 1124.9,577.5 1125.3,576.1 1125.8,576.5 1126.3,575.3 1126.8,574.6 1127.3,574.1 1127.9,572.5 1128.4,574.2 1128.8,577.3 1129.3,579 1129.8,572.6 1130.4,566 1130.9,563.5 1131.4,560.2 1131.9,561.9 1132.3,564.3 1132.8,565.3 1133.3,564.4 1133.7,563.8 1134.2,563.8 1134.7,566.2 1135.2,570.9 1135.6,573.1 1136.1,576.8 1136.6,574.6 1137.1,572.9 1137.6,571.8 1138.1,564.7 1138.6,558.1 1139.1,559.6 1139.5,562.3 1140,564.6 1140.5,565 1141,565.7 1141.4,566.2 1141.9,567.4 1142.4,566.3 1142.8,565 1143.2,564.2 1143.7,563.1 1144.2,560.9 1144.6,558.6 1145,554.9 1145.5,553.8 1145.9,553 1146.3,552.3 1146.8,552.6 1147.2,551.6 1147.6,554.3 1148,558.4 1148.4,562.4 1149,568.3 1149.5,574.6 1149.9,574.8 1150.3,575.9 1150.8,575.5 1151.2,576.1 1151.6,577.6 1152.1,577.3 1152.5,578.1 1153,580.8 1153.4,581.1 1153.9,578.8 1154.4,576.1 1154.8,571.3 1155.3,566 1155.8,571.1 1156.3,576.1 1156.8,577.1 1157.2,576.8 1157.7,578.2 1158.2,577.7 1158.7,576.1 1159.3,551.6 1159.8,549.2 1160.2,547.3 1160.7,514.2 1161.3,495.4 1161.8,479.7 1162.2,459.2 1162.6,445.2 1162.9,430.2 1163.3,446.3 1163.8,462.4 1164.2,448.8 1164.6,437.3 1165,451.5 1165.4,467.1 1165.8,474.4 1166.3,480.4 1166.8,476 1167.3,471.8 1167.7,464.5 1168.1,457.7 1168.7,456.2 1169.2,454.5 1169.7,455.3 1170.2,456.3 1170.7,457.7 1171.1,461.9 1171.6,466.1 1172,470.2 1172.4,475 1172.8,478.1 1173.2,498.5 1173.5,526.8 1173.9,520.5 1174.3,514.2 1174.7,518.4 1175.1,520.5 1175.5,517 1176,512.5 1176.4,507.1 1176.8,512.8 1177.3,517.3 1177.7,517.4 1178.2,517.4 1178.6,517.3 1179,520.9 1179.4,524.2 1179.8,528.3 1180.3,530.8 1180.7,532.9 1181.2,535.8 1181.7,539.6 1182.2,541.5 1182.7,541.1 1183.1,539.9 1183.6,539.4 1184.1,540.2 1184.6,543.2 1185.1,545.1 1185.6,546.6 1186,547.9 1186.5,550.2 1187,547.8 1187.5,546.6 1188,545 1188.5,546.2 1188.9,545.4 1189.4,545.1 1189.9,551.9 1190.4,555.9 1190.9,557.8 1191.3,559.7 1191.8,561.7 1192.2,562 1192.6,560.8 1193,560.2 1193.5,557.4 1193.9,554.5 1194.3,560.7 1194.7,567.4 1195.2,572.1 1195.6,577.5 1196,579.4 1196.4,580.2 1196.9,581.7 1197.3,581.8 1197.8,585.2 1198.3,588.9 1198.8,592.5 1199.2,593 1199.6,595 1200,594.6 1200.5,596.7 1200.9,597.9 1201.3,598.3 1201.8,600.7 1202.2,600.9 1202.7,603.6 1203.1,604.2 1203.6,606.2 1204,607.5 1204.4,608.9 1204.9,612 1205.3,614 1205.7,614.8 1206.1,614.1 1206.5,613.6 1206.9,613.4 1207.3,613.2 1207.8,618.2 1208.3,621.1 1208.8,624.2 1209.3,624.3 1209.8,624 1210.2,625 1210.7,625.8 1211.1,625.5 1211.5,624.9 1211.9,622.7 1212.3,621.9 1212.8,621.8 1213.3,622.2 1213.8,622.7 1214.2,623 1214.7,625.8 1215.1,626.6 1215.6,626.8 1216,628.7 1216.5,628 1217,629.7 1217.5,628.4 1218,628.7 1218.4,627.6 1218.9,627.4 1219.4,628.3 1219.9,628.4 1220.4,628.9 1220.8,628 1221.2,628.6 1221.7,628.5 1222.1,626.6 1222.5,627.4 1223,629 1223.4,628.9 1223.9,629.7 1224.3,628.9 1224.8,630.5 1225.3,631.2 1225.8,632.5 1226.2,634.4 1226.7,634.1 1227.2,636 1227.6,636 1228,635.9 1228.4,637.4 1228.8,638.1 1229.3,637.9 1229.8,636.3 1230.3,636.8 1230.8,632.5 1231.4,628.9 1231.9,630 1232.4,630.5 1233,628.6 1233.5,625 1234,625.4 1234.5,624.8 1235,624.4 1235.5,625 1235.9,625.5 1236.3,626.6 1236.7,628 1237.1,628.9 1237.6,628.3 1238,628.7 1238.5,627.3 1239,626.6 1239.5,627 1240,629.5 1240.5,629.7 1241,628.8 1241.5,627 1241.9,625.2 1242.4,624.2 1242.8,624 1243.2,625.2 1243.6,627.1 1244,627.4 1244.4,626.8 1244.8,626.3 1245.2,626.9 1245.6,626.6 1246.1,627.5 1246.6,628.5 1247.1,628.9 1247.5,627.7 1247.9,626.6 1248.3,623.8 1248.7,622.7 1249.1,620.9 1249.6,617.4 1250,615.6 1250.4,618.1 1250.8,619.9 1251.2,621.9 1251.6,621.5 1252.1,621.4 1252.5,620.3 1253,621.9 1253.4,624 1253.9,625 1254.3,625.7 1254.7,625.5 1255.1,625.3 1255.5,625.8 1256,624.6 1256.5,624 1257,623.5 1257.4,620.5 1257.9,617.7 1258.3,614.8 1258.8,617 1259.2,616.2 1259.7,616.4 1260.2,615.8 1260.7,614 1261.2,613.1 1261.7,612.5 1262.1,610.9 1262.5,609.9 1262.9,607.8 1263.3,607 1263.7,606.3 1264.1,603.5 1264.5,602.9 1264.9,600.7 1265.5,604.1 1266,610.1 1266.4,611.9 1266.8,613.8 1267.2,615.5 1267.6,617.2 1268,615.4 1268.4,613.2 1268.8,610.9 1269.2,611 1269.7,609.9 1270.1,610.9 1270.7,605.4 1271.2,600.7 1271.8,591.6 1272.3,585 1272.8,579 1273.2,572.4 1273.6,569.7 1274.1,566.6 1274.5,563.8 1275,570.4 1275.4,577.9 1275.9,578.4 1276.4,579.5 1277,575 1277.5,568.5 1278,565.9 1278.6,561.4 1279,558.2 1279.5,555.1 1280,548.8 1280.6,541 1281.2,542.5 1281.7,545.7 1282.1,547.2 1282.5,550.5 1282.9,552.9 1283.3,555.9 1283.7,559 1284.1,562.8 1284.5,566.1 1284.9,571.2 1285.4,572.5 1285.8,576.3 1286.3,578.3 1286.9,580.3 1287.5,576.5 1288,572.4 1288.5,563.7 1288.9,555.1 1289.5,546.5 1289.8,551.7 1290.2,555.9 1290.7,551.8 1291.1,545.7 1291.6,542.7 1292.1,541 1292.7,536.4 1293.2,531.6 1293.7,532 1294.2,532.8 1294.7,533.1 1295.2,535.4 1295.8,539.4 1296.2,537.9 1296.7,537.1 1297.1,537.9 1297.5,541.7 1297.9,544.9 1298.5,540.7 1299,536.3 1299.5,541 1299.9,545.7 1300.3,544.2 1300.7,545.1 1301.1,544.7 1301.5,544.9 1302,549.6 1302.6,555.9 1303.2,557.3 1303.7,559.8 1304.1,559.4 1304.5,558.6 1304.9,557.5 1305.3,555.1 1305.8,553 1306.2,550.4 1306.6,554.4 1307,559 1307.4,563.3 1307.9,564.5 1308.3,566.1 1308.8,566.9 1309.3,568.2 1309.8,570.8 1310.3,573.4 1310.8,576.1 1311.3,573.3 1311.7,572.5 1312.2,568.9 1312.6,570.6 1313,572 1313.4,573.2 1313.8,572.3 1314.2,568.9 1314.7,573.6 1315.1,576.8 1315.5,563 1315.9,550.9 1316.4,550.4 1316.8,549.6 1317.2,549.2 1317.7,547.3 1318.2,550.9 1318.7,553 1319.2,552.4 1319.7,550.9 1320.2,555.3 1320.8,561 1321.2,559.8 1321.6,559.7 1322,558.8 1322.5,562.3 1323,565.3 1323.5,561.8 1324,559.5 1324.5,560.3 1324.9,561.2 1325.4,562.4 1325.9,563 1326.3,563.7 1326.8,563.9 1327.3,564.6 1327.8,567.3 1328.3,572 1328.8,574.6 1329.2,577.7 1329.5,579 1330,577.5 1330.6,576.1 1331.1,578.8 1331.6,580.7 1332.1,582.6 1332.5,584 1332.9,585 1333.4,585.4 1333.8,586.9 1334.2,587.7 1334.7,588.5 1335.1,588 1335.5,589 1335.9,588.6 1336.3,587.3 1336.7,584.7 1337.2,587.1 1337.6,588.7 1338.1,589 1338.5,589.7 1339,589.4 1339.4,589.6 1339.9,589.8 1340.3,590.5 1340.8,590.7 1341.2,590.8 1341.6,591.4 1342.1,591.2 1342.7,591.2 1343.2,593.4 1343.7,591.8 1344.1,588.9 1344.6,584.7 1345.1,581.8 1345.6,579 1346,578.9 1346.4,578.3 1346.8,577.5 1347.3,574.8 1347.9,571.8 1348.3,569.8 1348.7,567.9 1349.1,566 1349.5,568.4 1349.9,571.8 1350.3,573.3 1350.7,574.7 1351.1,576.1 1351.5,576.8 1351.9,576.7 1352.4,577.7 1352.8,578.2 1353.3,579 1353.8,580 1354.2,579.8 1354.7,581.1 1355.2,585.3 1355.7,589 1356.2,592.2 1356.6,594.7 1357.1,597 1357.5,591.7 1357.9,586.6 1358.3,581.8 1358.8,582.2 1359.2,583.2 1359.7,583.3 1360.2,585.8 1360.7,586.5 1361.2,588.3 1361.7,585.8 1362.1,584.2 1362.6,581.8 1363,582.8 1363.4,583.1 1363.9,584.1 1364.3,585.4 1364.8,587.5 1365.3,590.1 1365.8,591.9 1366.3,592.4 1366.7,593.7 1367.2,595.5 1367.7,596.9 1368.1,597 1368.6,598.8 1369.1,597.5 1369.6,596.3 1370.1,594.8 1370.6,594 1371,592.8 1371.5,592.6 1372,590.9 1372.5,589.1 1373,587.6 1373.5,589.9 1374.1,591.9 1374.6,589.8 1375.1,589.2 1375.6,586.9 1376.1,586.9 1376.5,588.7 1377,589.8 1377.4,588.5 1377.8,587.8 1378.3,585.6 1378.7,584.7 1379.2,586.2 1379.7,586.8 1380.2,588.3 1380.7,587.6 1381.1,587.1 1381.5,584.9 1382,584 1382.5,583.5 1383,582 1383.4,582.4 1383.9,581.1 1384.3,582.7 1384.8,582.9 1385.2,583.2 1385.6,584.7 1386,585.3 1386.5,586.1 1387,586.4 1387.4,586.2 1387.8,576.9 1388.2,566.7 1388.6,571.1 1388.9,577.5 1389.4,578.6 1389.8,581.2 1390.2,581.2 1390.7,583.3 1391.2,583 1391.6,582.4 1392.1,580.4 1392.6,582.5 1393.1,584.3 1393.6,585.4 1394.1,589.2 1394.6,593.4 1395.2,594.9 1395.7,597.7 1396.1,600.9 1396.4,604.2 1396.9,605 1397.3,606 1397.8,607.3 1398.3,607.8 1398.7,608.6 1399.2,609.7 1399.6,610.7 1400,611.4 1400.5,612.5 1400.9,614.6 1401.3,614.9 1401.8,615.7 1402.3,616.7 1402.7,617.5 1403.2,618.6 1403.7,617.3 1404.1,617.4 1404.6,615.7 1405.1,616.1 1405.5,615.8 1406,616.4 1406.5,617.1 1407,616.1 1407.5,614.9 1408,614.2 1408.5,614.6 1408.9,613.1 1409.4,613.5 1409.9,614.7 1410.3,615.5 1410.8,616.4 1411.3,617.2 1411.8,619.3 1412.3,620.7 1412.8,619.9 1413.2,619.6 1413.7,618.6 1414.2,618.1 1414.7,618.2 1415.2,617.8"/>
<line x1="55.1" y1="555.95" x2="1480.5" y2="555.95" stroke="#ff0000" stroke-width="2.08" stroke-dasharray="7.71 3.33"/>
<rect x="55.5" y="30.5" width="1425" height="663.00" fill="none" stroke="#262626" stroke-width="1.05"/>
<text transform="translate(44.1,54.5) rotate(0.05) scale(1,1.1)" x="0" y="0" font-size="13.89" letter-spacing="-0.6" text-anchor="end">45</text>
<text transform="translate(44.1,129.6) rotate(0.05) scale(1,1.1)" x="0" y="0" font-size="13.89" letter-spacing="-0.6" text-anchor="end">40</text>
<text transform="translate(44.1,204.6) rotate(0.05) scale(1,1.1)" x="0" y="0" font-size="13.89" letter-spacing="-0.6" text-anchor="end">35</text>
<text transform="translate(44.1,279.8) rotate(0.05) scale(1,1.1)" x="0" y="0" font-size="13.89" letter-spacing="-0.6" text-anchor="end">30</text>
<text transform="translate(44.1,354.8) rotate(0.05) scale(1,1.1)" x="0" y="0" font-size="13.89" letter-spacing="-0.6" text-anchor="end">25</text>
<text transform="translate(44.1,429.9) rotate(0.05) scale(1,1.1)" x="0" y="0" font-size="13.89" letter-spacing="-0.6" text-anchor="end">20</text>
<text transform="translate(44.1,505) rotate(0.05) scale(1,1.1)" x="0" y="0" font-size="13.89" letter-spacing="-0.6" text-anchor="end">15</text>
<text transform="translate(44.1,580.1) rotate(0.05) scale(1,1.1)" x="0" y="0" font-size="13.89" letter-spacing="-0.6" text-anchor="end">10</text>
<text transform="translate(44.9,655.5) rotate(0.05) scale(1,1.1)" x="0" y="0" font-size="13.89" letter-spacing="-0.6" text-anchor="end">5</text>
<text transform="translate(117.8,718.5) rotate(-45) scale(1,1.07)" x="0" y="5" font-size="14.15" letter-spacing="-0.4" text-anchor="middle">2000</text>
<text transform="translate(324.1,718.5) rotate(-45) scale(1,1.07)" x="0" y="5" font-size="14.15" letter-spacing="-0.4" text-anchor="middle">2004</text>
<text transform="translate(530.3,718.5) rotate(-45) scale(1,1.07)" x="0" y="5" font-size="14.15" letter-spacing="-0.4" text-anchor="middle">2008</text>
<text transform="translate(736.6,718.5) rotate(-45) scale(1,1.07)" x="0" y="5" font-size="14.15" letter-spacing="-0.4" text-anchor="middle">2012</text>
<text transform="translate(942.8,718.5) rotate(-45) scale(1,1.07)" x="0" y="5" font-size="14.15" letter-spacing="-0.4" text-anchor="middle">2016</text>
<text transform="translate(1149.1,718.5) rotate(-45) scale(1,1.07)" x="0" y="5" font-size="14.15" letter-spacing="-0.4" text-anchor="middle">2020</text>
<text transform="translate(1355.4,718.5) rotate(-45) scale(1,1.07)" x="0" y="5" font-size="14.15" letter-spacing="-0.4" text-anchor="middle">2024</text>
<text x="767.3" y="21.8" font-size="16.67" text-anchor="middle">US Corporate Bond Spreads</text>
<text x="145.0" y="27.9" font-size="12.5">Last updated: 2025-02-13</text>
<text transform="translate(767.4,750.9) rotate(0.05) scale(0.975,1.08)" x="0" y="0" font-size="13.89" text-anchor="middle">Date</text>
<text transform="translate(19.7,362.8) rotate(-90)" x="0" y="0" font-size="13.89" text-anchor="middle">Corp Spread (%)</text>
<rect x="1286.3" y="37.5" width="187.7" height="46" rx="2.8" ry="2.8" fill="#ffffff" fill-opacity="0.8" stroke="#cccccc" stroke-opacity="0.8" stroke-width="1.39"/>
<line x1="1290.1" y1="48.7" x2="1320" y2="48.7" stroke="#1f77b4" stroke-width="2.08"/>
<line x1="1291.1" y1="70.1" x2="1318.9" y2="70.1" stroke="#ff0000" stroke-width="2.08" stroke-dasharray="7.71 3.33"/>
<text x="1329.9" y="53.8" font-size="13.89">Corp Spread</text>
<text x="1329.9" y="75.2" font-size="13.89">Mean Spread: 11.26%</text>
<rect x="1434" y="0" width="55" height="35.1" fill="#ffffff"/>
<g id="logo">
<polyline fill="none" stroke="#9e1428" stroke-width="1.1" stroke-linejoin="round" stroke-linecap="round" points="1434.2,20.7 1436.5,28.5 1438.1,22 1439.7,26.2 1441,21.2 1443.6,34.6 1445.4,5.2 1447.5,28.5 1449.1,20.9 1450.4,26.2 1451.7,20.9 1453.6,28.5 1455.1,20.9 1456.4,25.7 1457.5,20.4 1459.1,28.3 1459.8,28.3"/>
<rect x="1461.1" y="5.2" width="6.1" height="7.1" rx="1.4" fill="#9e1428"/>
<text x="1464.15" y="10.9" font-size="6.2" font-weight="bold" text-anchor="middle" style="fill:#ffffff">S</text>
<text x="1467.7" y="10.8" font-size="5.0" font-weight="bold" style="fill:#1c2426">IGNAL</text>
<rect x="1461.1" y="14.7" width="6.1" height="6" rx="1.4" fill="#9e1428"/>
<text x="1464.15" y="19.9" font-size="6.2" font-weight="bold" text-anchor="middle" style="fill:#ffffff">2</text>
<rect x="1461.1" y="22.8" width="6.1" height="6.8" rx="1.4" fill="#9e1428"/>
<text x="1464.15" y="28.4" font-size="6.2" font-weight="bold" text-anchor="middle" style="fill:#ffffff">N</text>
<text x="1467.7" y="28.2" font-size="5.0" font-weight="bold" style="fill:#1c2426">OISE</text>
</g>
</svg></body></html>
